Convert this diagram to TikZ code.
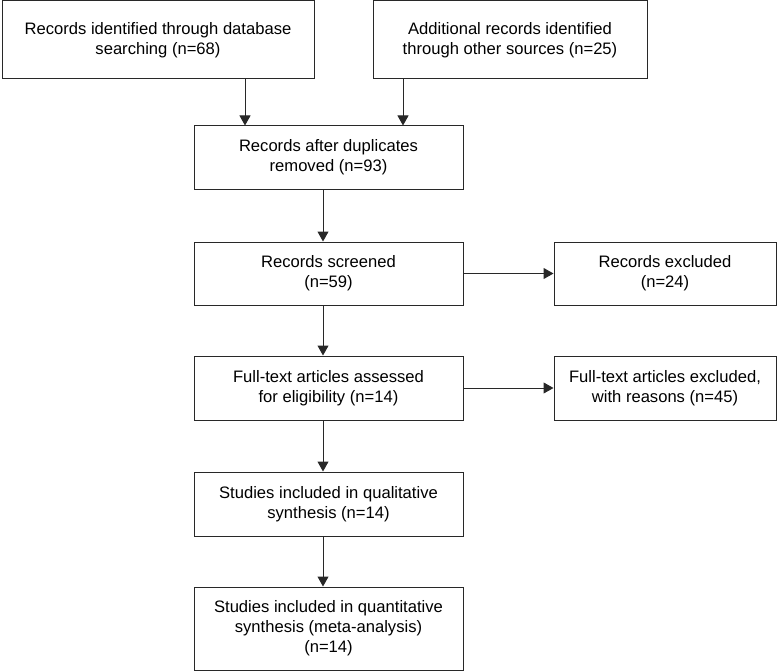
\documentclass[tikz,border=0pt]{standalone}
\usepackage{fontspec}
\setmainfont{Liberation Sans}
\usepackage{tikz}
\usetikzlibrary{calc,shapes,arrows.meta}
\definecolor{Frame}{RGB}{40,40,40}

\begin{document}
\begin{tikzpicture}[x=1pt, y=-1pt]
			\useasboundingbox (0,0) rectangle (778,671);
			\tikzstyle{every node}=[draw=Frame, line width=1pt, shape=rectangle, align=center, inner sep=0pt, font=\fontsize{16.6}{20}\selectfont];
			\tikzstyle{arr}=[-{Triangle[length=10pt, width=11pt]}, line width=1pt, draw=Frame];
			\coordinate (left) at (245,0);
			\coordinate (right) at (403,0);
			\coordinate (spine) at (323,0);
			\node [minimum width=312pt, minimum height=78pt] (db) at (158, 40) {Records identified through database\\searching (n=68)};
			\node [minimum width=274pt, minimum height=78pt] (other) at (510, 40) {Additional records identified\\through other sources (n=25)};
			\node [minimum width=269pt, minimum height=63pt] (dup) at (328.5, 157.5) {Records after duplicates\\removed (n=93)};
			\node [minimum width=269pt, minimum height=63pt] (scr) at (328.5, 273.5) {Records screened\\(n=59)};
			\node [minimum width=222pt, minimum height=63pt] (excl) at (665, 273.5) {Records excluded\\(n=24)};
			\node [minimum width=269pt, minimum height=64pt] (full) at (328.5, 388) {Full-text articles assessed\\for eligibility (n=14)};
			\node [minimum width=222pt, minimum height=64pt] (fexcl) at (665, 388) {Full-text articles excluded,\\with reasons (n=45)};
			\node [minimum width=269pt, minimum height=64pt] (qual) at (328.5, 504) {Studies included in qualitative\\synthesis (n=14)};
			\node [minimum width=269pt, minimum height=83pt] (quant) at (328.5, 628.5) {Studies included in quantitative\\synthesis (meta-analysis)\\(n=14)};
			\draw [arr] (db.south -| left) -- (dup.north -| left);
			\draw [arr] (other.south -| right) -- (dup.north -| right);
			\draw [arr] (dup.south -| spine) -- (scr.north -| spine);
			\draw [arr] (scr.east) -- (excl.west);
			\draw [arr] (scr.south -| spine) -- (full.north -| spine);
			\draw [arr] (full.east) -- (fexcl.west);
			\draw [arr] (full.south -| spine) -- (qual.north -| spine);
			\draw [arr] (qual.south -| spine) -- (quant.north -| spine);
		\end{tikzpicture}
\end{document}
